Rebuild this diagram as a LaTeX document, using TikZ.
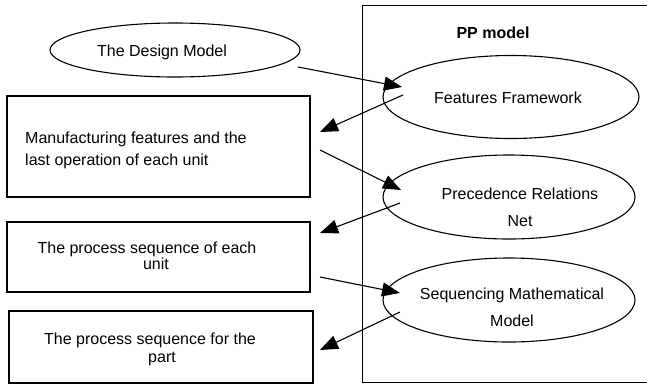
\documentclass[tikz,border=0pt]{standalone}
\usepackage{fontspec}
\setmainfont{Liberation Sans}
\usetikzlibrary{shapes.geometric,arrows.meta}
\begin{document}
\begin{tikzpicture}[x=1pt,y=-1pt,
  lbl/.style={inner sep=0pt,font=\fontsize{16}{18}\selectfont},
  lblwide/.style={inner sep=0pt,align=center,font=\fontsize{16}{27}\selectfont},
  oval/.style={draw,ellipse,line width=1.1pt,inner sep=0pt},
  box/.style={draw,rectangle,line width=1.1pt,inner sep=0pt},
  link/.style={line width=1.1pt,-{Triangle[length=18pt,width=14pt]}}]
\useasboundingbox (0,0) rectangle (647,386);
\begin{scope}
\clip (0,0) rectangle (647,386);
\node[box,minimum width=310pt,minimum height=377pt,anchor=north west] (pp) at (362,5) {};
\end{scope}
\node[lbl,font=\fontsize{16}{18}\selectfont\bfseries] (pplabel) at (493,33) {PP model};

% ellipses
\node[oval,minimum width=250pt,minimum height=54pt] (dm) at (175,50) {};
\node[lbl] (dmt) at (162,52) {The Design Model};
\node[oval,minimum width=256pt,minimum height=83pt] (ff) at (511,97) {};
\node[lbl] (fft) at (508,98) {Features Framework};
\node[oval,minimum width=252pt,minimum height=84pt] (pr) at (509,197) {};
\node[lblwide] (prt) at (520,207) {Precedence Relations\\Net};
\node[oval,minimum width=252pt,minimum height=84pt] (sm) at (509,300) {};
\node[lblwide] (smt) at (512,307) {Sequencing Mathematical\\Model};

% boxes
\node[box,minimum width=303pt,minimum height=101pt] (b1) at (158.5,146.5) {};
\node[lbl,align=left,anchor=west,font=\fontsize{16}{22}\selectfont] (b1t) at (25,150) {Manufacturing features and the\\last operation of each unit};
\node[box,minimum width=303pt,minimum height=70pt] (b2) at (158.5,257) {};
\node[lbl,align=center,font=\fontsize{16}{16.5}\selectfont] (b2t) at (147,256) {The process sequence of each\\\hspace*{18pt}unit};
\node[box,minimum width=304pt,minimum height=72pt] (b3) at (161,347) {};
\node[lbl,align=center,font=\fontsize{16}{18}\selectfont] (b3t) at (150,349) {The process sequence for the\\\hspace*{24pt}part};

% connector ends
\coordinate (a1s) at (298,67);  \coordinate (a1e) at (402,87);
\coordinate (a2s) at (403,95);  \coordinate (a2e) at (320,132);
\coordinate (a3s) at (320,150); \coordinate (a3e) at (401,190);
\coordinate (a4s) at (400,203); \coordinate (a4e) at (320,233);
\coordinate (a5s) at (320,277); \coordinate (a5e) at (400,293);
\coordinate (a6s) at (400,312); \coordinate (a6e) at (320,350);

\draw[link] (a1s) -- (a1e);
\draw[link] (a2s) -- (a2e);
\draw[link] (a3s) -- (a3e);
\draw[link] (a4s) -- (a4e);
\draw[link] (a5s) -- (a5e);
\draw[link] (a6s) -- (a6e);
\end{tikzpicture}
\end{document}
